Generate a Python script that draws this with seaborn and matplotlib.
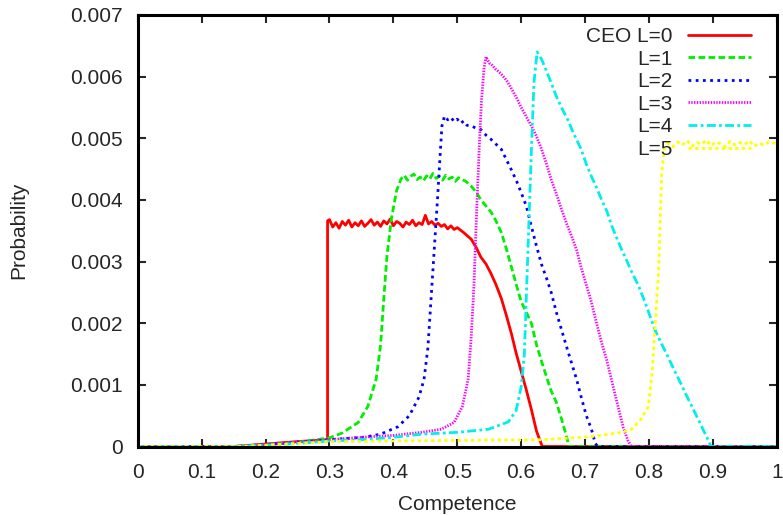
import numpy as np
import pandas as pd
import matplotlib
matplotlib.use("Agg")
import matplotlib.pyplot as plt
import seaborn as sns

# ---- data (Competence vs Probability) ----
x_l0 = [0.0, 0.15, 0.2, 0.25, 0.297, 0.297,
        0.300, 0.305, 0.310, 0.315, 0.320, 0.325, 0.330, 0.335, 0.340, 0.345,
        0.350, 0.355, 0.360, 0.365, 0.370, 0.375, 0.380, 0.385, 0.390, 0.395,
        0.400, 0.405, 0.410, 0.415, 0.420, 0.425, 0.430, 0.435, 0.440, 0.445,
        0.450, 0.455, 0.460, 0.465, 0.470, 0.475, 0.480, 0.485, 0.490, 0.495,
        0.500, 0.510, 0.522, 0.530, 0.537, 0.545, 0.553, 0.560, 0.569, 0.577,
        0.585, 0.592, 0.600, 0.608, 0.616, 0.624, 0.633, 0.700, 1.0]
y_l0 = [0.0, 0.0, 0.00004, 0.00008, 0.00011, 0.00366,
        0.00368, 0.00356, 0.00363, 0.00354, 0.00365, 0.00359, 0.00367, 0.00356, 0.00363, 0.00358,
        0.00366, 0.00357, 0.00362, 0.00368, 0.00359, 0.00364, 0.00357, 0.00366, 0.00361, 0.00369,
        0.00358, 0.00365, 0.00362, 0.00356, 0.00364, 0.00360, 0.00367, 0.00358, 0.00363, 0.00360,
        0.00375, 0.00361, 0.00365, 0.00359, 0.00362, 0.00357, 0.00360, 0.00353, 0.00358, 0.00352,
        0.00355, 0.00347, 0.00336, 0.00322, 0.00307, 0.00296, 0.00280, 0.00264, 0.00240, 0.00212,
        0.00182, 0.00152, 0.00122, 0.00092, 0.00060, 0.00025, 0.0, 0.0, 0.0]

x_l1 = [0.0, 0.15, 0.2, 0.25, 0.30, 0.32, 0.345, 0.36, 0.373, 0.38, 0.385,
        0.39, 0.397, 0.405, 0.412, 0.417, 0.422, 0.427, 0.432, 0.437, 0.442,
        0.447, 0.452, 0.457, 0.462, 0.467, 0.472, 0.477, 0.482, 0.487, 0.492,
        0.497, 0.502, 0.507, 0.512, 0.517, 0.522, 0.530, 0.537, 0.545, 0.553,
        0.561, 0.569, 0.577, 0.585, 0.593, 0.600, 0.608, 0.616, 0.624, 0.632,
        0.640, 0.647, 0.655, 0.663, 0.670, 0.675, 0.700, 1.0]
y_l1 = [0.0, 0.0, 0.00003, 0.00007, 0.00014, 0.00022, 0.00039, 0.00065, 0.00109, 0.00165, 0.00240,
        0.00310, 0.00370, 0.00415, 0.00434, 0.00440, 0.00432, 0.00438, 0.00442, 0.00433, 0.00437,
        0.00431, 0.00439, 0.00434, 0.00443, 0.00435, 0.00438, 0.00432, 0.00440, 0.00434, 0.00437,
        0.00430, 0.00436, 0.00433, 0.00431, 0.00427, 0.00422, 0.00412, 0.00400, 0.00390, 0.00380,
        0.00365, 0.00347, 0.00320, 0.00290, 0.00260, 0.00235, 0.00218, 0.00200, 0.00165, 0.00138,
        0.00112, 0.00090, 0.00072, 0.00045, 0.00020, 0.0, 0.0, 0.0]

x_l2 = [0.0, 0.15, 0.2, 0.25, 0.30, 0.354, 0.38, 0.407, 0.425, 0.440, 0.448,
        0.454, 0.459, 0.464, 0.469, 0.473, 0.476, 0.480, 0.485, 0.490, 0.495,
        0.500, 0.505, 0.510, 0.515, 0.522, 0.530, 0.537, 0.545, 0.553, 0.561,
        0.569, 0.577, 0.585, 0.593, 0.600, 0.608, 0.616, 0.624, 0.632, 0.640,
        0.647, 0.655, 0.663, 0.671, 0.679, 0.687, 0.694, 0.702, 0.710, 0.716,
        0.720, 0.750, 1.0]
y_l2 = [0.0, 0.0, 0.00003, 0.00007, 0.00011, 0.00015, 0.00020, 0.00032, 0.00050, 0.00080, 0.00109,
        0.00160, 0.00240, 0.00320, 0.00400, 0.00470, 0.00520, 0.00536, 0.00530, 0.00534, 0.00527,
        0.00531, 0.00524, 0.00528, 0.00521, 0.00520, 0.00516, 0.00514, 0.00505, 0.00498, 0.00490,
        0.00482, 0.00465, 0.00448, 0.00430, 0.00412, 0.00390, 0.00357, 0.00325, 0.00295, 0.00272,
        0.00250, 0.00218, 0.00190, 0.00162, 0.00135, 0.00108, 0.00080, 0.00050, 0.00028, 0.00005,
        0.0, 0.0, 0.0]

x_l3 = [0.0, 0.15, 0.2, 0.25, 0.30, 0.35, 0.40, 0.444, 0.475, 0.495, 0.508,
        0.517, 0.522, 0.526, 0.531, 0.535, 0.538, 0.542, 0.545, 0.550, 0.555,
        0.560, 0.565, 0.569, 0.577, 0.585, 0.593, 0.600, 0.608, 0.616, 0.624,
        0.632, 0.640, 0.647, 0.655, 0.663, 0.671, 0.679, 0.687, 0.694, 0.702,
        0.710, 0.718, 0.726, 0.734, 0.741, 0.748, 0.754, 0.760, 0.767, 0.772,
        0.800, 1.0]
y_l3 = [0.0, 0.0, 0.00003, 0.00007, 0.00011, 0.00015, 0.00018, 0.00023, 0.00028, 0.00039, 0.00065,
        0.00109, 0.00180, 0.00260, 0.00400, 0.00500, 0.00563, 0.00615, 0.00632, 0.00622, 0.00618,
        0.00612, 0.00608, 0.00604, 0.00594, 0.00580, 0.00565, 0.00550, 0.00535, 0.00520, 0.00503,
        0.00482, 0.00457, 0.00433, 0.00410, 0.00385, 0.00362, 0.00341, 0.00318, 0.00290, 0.00262,
        0.00234, 0.00200, 0.00168, 0.00140, 0.00110, 0.00080, 0.00055, 0.00030, 0.00010, 0.0,
        0.0, 0.0]

x_l4 = [0.0, 0.15, 0.2, 0.25, 0.30, 0.35, 0.40, 0.444, 0.50, 0.549, 0.580,
        0.592, 0.600, 0.605, 0.608, 0.612, 0.616, 0.620, 0.625, 0.632, 0.640,
        0.647, 0.655, 0.663, 0.674, 0.679, 0.687, 0.694, 0.702, 0.710, 0.718,
        0.726, 0.734, 0.741, 0.746, 0.757, 0.765, 0.773, 0.784, 0.796, 0.809,
        0.820, 0.830, 0.840, 0.850, 0.860, 0.870, 0.878, 0.885, 0.893, 0.897,
        0.920, 1.0]
y_l4 = [0.0, 0.0, 0.00002, 0.00005, 0.00009, 0.00011, 0.00015, 0.00020, 0.00023, 0.00028, 0.00040,
        0.00058, 0.00097, 0.00150, 0.00240, 0.00360, 0.00480, 0.00590, 0.00640, 0.00628, 0.00608,
        0.00590, 0.00568, 0.00550, 0.00528, 0.00515, 0.00497, 0.00482, 0.00458, 0.00438, 0.00420,
        0.00400, 0.00382, 0.00360, 0.00347, 0.00320, 0.00302, 0.00283, 0.00260, 0.00228, 0.00190,
        0.00166, 0.00145, 0.00123, 0.00102, 0.00080, 0.00059, 0.00042, 0.00027, 0.00010, 0.0,
        0.0, 0.0]

x_l5 = [0.0, 0.15, 0.2, 0.25, 0.30, 0.40, 0.50, 0.632, 0.710, 0.757, 0.773,
        0.788, 0.799, 0.805, 0.809, 0.815, 0.820, 0.824, 0.830, 0.837, 0.845,
        0.852, 0.860, 0.867, 0.875, 0.882, 0.890, 0.897, 0.905, 0.912, 0.920,
        0.927, 0.935, 0.942, 0.950, 0.957, 0.965, 0.972, 0.980, 0.988, 1.0]
y_l5 = [0.0, 0.0, 0.00002, 0.00005, 0.00008, 0.00009, 0.00010, 0.00011, 0.00016, 0.00023, 0.00028,
        0.00045, 0.00065, 0.00120, 0.00185, 0.00282, 0.00445, 0.00482, 0.00492, 0.00486, 0.00494,
        0.00489, 0.00496, 0.00487, 0.00493, 0.00490, 0.00497, 0.00488, 0.00494, 0.00491, 0.00486,
        0.00495, 0.00489, 0.00493, 0.00490, 0.00496, 0.00487, 0.00492, 0.00489, 0.00494, 0.00491]

labels = ["CEO L=0", "L=1", "L=2", "L=3", "L=4", "L=5"]
x_ticks = [0, 0.1, 0.2, 0.3, 0.4, 0.5, 0.6, 0.7, 0.8, 0.9, 1]
x_tick_labels = ["0", "0.1", "0.2", "0.3", "0.4", "0.5", "0.6", "0.7", "0.8", "0.9", "1"]
y_ticks = [0, 0.001, 0.002, 0.003, 0.004, 0.005, 0.006, 0.007]
y_tick_labels = ["0", "0.001", "0.002", "0.003", "0.004", "0.005", "0.006", "0.007"]

series = [(x_l0, y_l0), (x_l1, y_l1), (x_l2, y_l2), (x_l3, y_l3), (x_l4, y_l4), (x_l5, y_l5)]
colors = ["#ff0000", "#00ee00", "#0000ff", "#ff00ff", "#00eeee", "#ffff00"]
styles = ["-", (0, (2.4, 1.2)), (0, (1.0, 1.6)), (0, (0.5, 0.5)), (0, (3.2, 1.2, 1.0, 1.2)), (0, (1.2, 1.2))]

sns.set_style("ticks")
plt.rcParams['font.family'] = ['Liberation Sans', 'DejaVu Sans']

fig = plt.figure(figsize=(7.83, 5.15), dpi=100)
ax = fig.add_axes([0.176, 0.133, 0.816, 0.838])

for (xs, ys), lab, col, ls in zip(series, labels, colors, styles):
    df = pd.DataFrame({'Competence': xs, 'Probability': ys})
    sns.lineplot(data=df, x='Competence', y='Probability', ax=ax, color=col,
                 linestyle=ls, linewidth=2.0, label=lab, estimator=None, sort=False)

ax.set_xlim(0, 1)
ax.set_ylim(0, 0.007)
ax.set_xticks(x_ticks)
ax.set_xticklabels(x_tick_labels)
ax.set_yticks(y_ticks)
ax.set_yticklabels(y_tick_labels)
ax.tick_params(direction='in', length=6, width=1.5, top=True, right=True,
               labelsize=15)
ax.tick_params(axis='y', pad=11)
ax.tick_params(axis='x', pad=12)
for spine in ax.spines.values():
    spine.set_visible(True)
    spine.set_linewidth(2.2)
    spine.set_edgecolor('black')

ax.set_xlabel('Competence', fontsize=15, labelpad=9)
ax.set_ylabel('Probability', fontsize=15, labelpad=30)

leg = ax.legend(loc='upper right', bbox_to_anchor=(0.972, 0.991), frameon=False,
                fontsize=15, markerfirst=False, handlelength=3.0, labelspacing=0.17,
                borderaxespad=0.0, handletextpad=0.75)

fig.savefig('out.png', dpi=100)
